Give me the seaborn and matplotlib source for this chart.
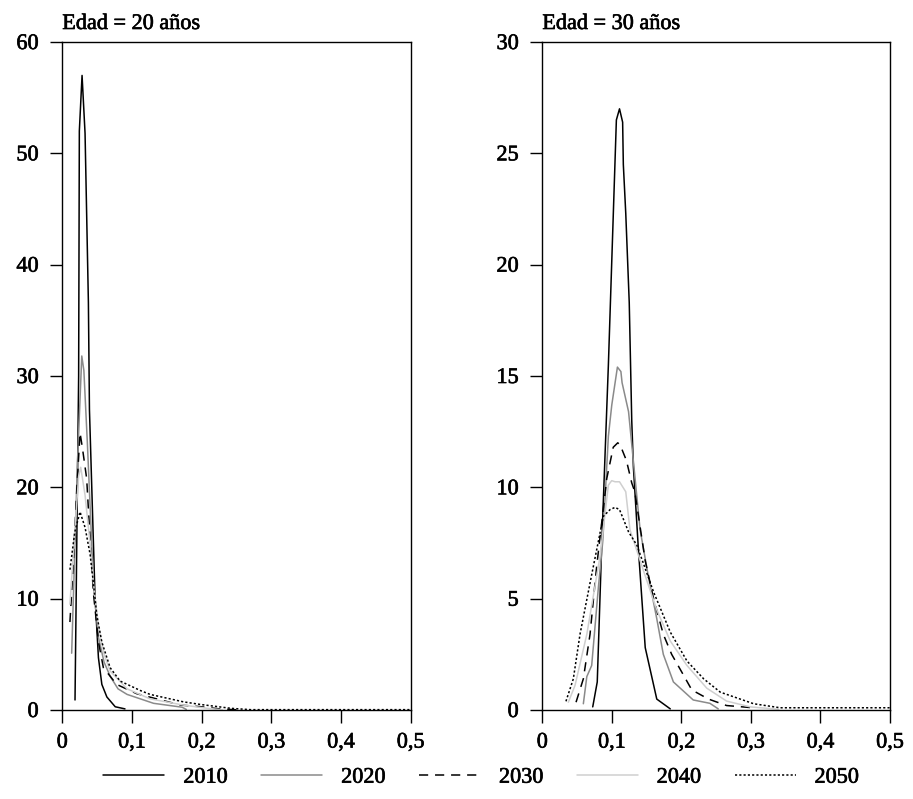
import numpy as np
import pandas as pd
import matplotlib
matplotlib.use("Agg")
import matplotlib.pyplot as plt
import matplotlib.patheffects as pe
import seaborn as sns

years = ["2010", "2020", "2030", "2040", "2050"]
panel_titles = ["Edad = 20 años", "Edad = 30 años"]

# ---- Edad = 20 años ----
x20_2010 = [0.0183, 0.0235, 0.0245, 0.0284, 0.0327, 0.0375, 0.039, 0.047, 0.0519, 0.0568, 0.064, 0.076, 0.090]
y20_2010 = [0.9, 30.0, 52.0, 57.0, 51.8, 36.6, 27.0, 10.2, 4.7, 2.3, 1.17, 0.29, 0.1]
x20_2020 = [0.0135, 0.0216, 0.028, 0.031, 0.036, 0.045, 0.052, 0.060, 0.069, 0.080, 0.093, 0.131, 0.172, 0.178]
y20_2020 = [5.1, 21.9, 31.8, 30.5, 24.0, 11.0, 6.5, 4.3, 3.0, 1.9, 1.4, 0.6, 0.25, 0.05]
x20_2030 = [0.011, 0.016, 0.021, 0.0255, 0.029, 0.035, 0.039, 0.0447, 0.052, 0.059, 0.078, 0.107, 0.170, 0.198, 0.227, 0.25]
y20_2030 = [7.9, 13.4, 20.0, 24.9, 23.5, 20.8, 16.4, 10.5, 6.1, 3.8, 2.3, 1.46, 0.44, 0.3, 0.09, 0.02]
x20_2040 = [0.011, 0.018, 0.0235, 0.0265, 0.0327, 0.040, 0.0447, 0.052, 0.060, 0.0687, 0.093, 0.126, 0.174, 0.208, 0.23]
y20_2040 = [9.5, 16.0, 21.0, 21.8, 19.3, 14.9, 11.4, 7.5, 5.0, 3.5, 1.9, 1.0, 0.44, 0.15, 0.02]
x20_2050 = [0.011, 0.018, 0.0255, 0.0327, 0.0399, 0.0447, 0.0496, 0.0568, 0.0687, 0.083, 0.112, 0.126, 0.174, 0.198, 0.242, 0.27, 0.5]
y20_2050 = [12.6, 16.0, 17.8, 16.4, 14.0, 11.4, 8.5, 6.1, 3.8, 2.6, 1.75, 1.4, 0.73, 0.5, 0.15, 0.03, 0.03]

# ---- Edad = 30 años ----
x30_2010 = [0.0725, 0.079, 0.0855, 0.095, 0.1065, 0.111, 0.1155, 0.1165, 0.120, 0.125, 0.1286, 0.131, 0.138, 0.148, 0.1646, 0.184]
y30_2010 = [0.14, 1.26, 7.5, 15.5, 26.5, 27.0, 26.4, 24.5, 22.3, 18.3, 13.0, 10.9, 7.3, 2.8, 0.49, 0.05]
x30_2020 = [0.059, 0.064, 0.071, 0.0806, 0.087, 0.095, 0.0999, 0.108, 0.113, 0.1147, 0.124, 0.1406, 0.1525, 0.1646, 0.174, 0.1885, 0.217, 0.241, 0.253]
y30_2020 = [0.28, 1.5, 2.0, 5.5, 7.6, 12.3, 13.7, 15.4, 15.2, 14.7, 13.4, 8.1, 6.0, 4.1, 2.5, 1.26, 0.45, 0.3, 0.05]
x30_2030 = [0.0485, 0.059, 0.0686, 0.078, 0.0927, 0.102, 0.1085, 0.112, 0.121, 0.1286, 0.133, 0.148, 0.160, 0.174, 0.186, 0.2006, 0.215, 0.239, 0.265, 0.299, 0.308]
y30_2030 = [0.35, 1.4, 3.4, 6.4, 10.4, 11.8, 12.0, 11.9, 11.2, 10.2, 9.8, 6.7, 5.0, 3.4, 2.5, 1.7, 0.9, 0.49, 0.2, 0.11, 0.02]
x30_2040 = [0.0374, 0.047, 0.064, 0.083, 0.095, 0.0998, 0.1046, 0.111, 0.120, 0.126, 0.145, 0.1646, 0.184, 0.208, 0.2365, 0.265, 0.299, 0.34]
y30_2040 = [0.35, 1.1, 3.4, 6.9, 10.1, 10.3, 10.25, 10.25, 9.8, 8.1, 6.3, 4.5, 3.1, 2.0, 0.98, 0.4, 0.14, 0.03]
x30_2050 = [0.034, 0.0446, 0.0542, 0.0686, 0.0878, 0.0974, 0.1046, 0.111, 0.124, 0.136, 0.160, 0.184, 0.208, 0.232, 0.256, 0.304, 0.342, 0.5]
y30_2050 = [0.39, 1.4, 3.4, 5.7, 8.7, 9.0, 9.1, 9.0, 8.0, 7.4, 5.3, 3.5, 2.2, 1.4, 0.8, 0.28, 0.1, 0.1]

x_ticks = [0, 0.1, 0.2, 0.3, 0.4, 0.5]
x_ticklabels = ["0", "0,1", "0,2", "0,3", "0,4", "0,5"]
y_ticks_20 = [0, 10, 20, 30, 40, 50, 60]
y_ticks_30 = [0, 5, 10, 15, 20, 25, 30]

def build(xs, ys):
    frames = []
    for yr, xv, yv in zip(years, xs, ys):
        frames.append(pd.DataFrame({"x": xv, "y": yv, "year": yr}))
    return pd.concat(frames, ignore_index=True)

df20 = build([x20_2010, x20_2020, x20_2030, x20_2040, x20_2050],
             [y20_2010, y20_2020, y20_2030, y20_2040, y20_2050])
df30 = build([x30_2010, x30_2020, x30_2030, x30_2040, x30_2050],
             [y30_2010, y30_2020, y30_2030, y30_2040, y30_2050])

sns.set_style("ticks")
plt.rcParams["font.family"] = ["Liberation Serif", "DejaVu Serif"]
FS = 16
plt.rcParams["font.size"] = FS
for k in ["text.color", "axes.labelcolor", "xtick.color", "ytick.color", "axes.edgecolor"]:
    plt.rcParams[k] = "black"

heavy = [pe.withStroke(linewidth=0.45, foreground="black")]

palette = {"2010": "#000000", "2020": "#8a8a8a", "2030": "#000000", "2040": "#cfcfcf", "2050": "#000000"}
dashes = {"2010": "", "2020": "", "2030": (6, 4.5), "2040": "", "2050": (1.4, 1.4)}

fig = plt.figure(figsize=(9.13, 7.99), dpi=100)
ax1 = fig.add_axes([0.0682, 0.1114, 0.3816, 0.836])
ax2 = fig.add_axes([0.594, 0.1114, 0.3808, 0.836])

for ax, df, yt, yl, title in [(ax1, df20, y_ticks_20, 60, panel_titles[0]),
                              (ax2, df30, y_ticks_30, 30, panel_titles[1])]:
    sns.lineplot(data=df, x="x", y="y", hue="year", style="year", palette=palette,
                 dashes=dashes, estimator=None, sort=False, linewidth=1.1, ax=ax,
                 legend=(ax is ax1))
    ax.set_xlim(0, 0.5)
    ax.set_ylim(0, yl)
    ax.set_xticks(x_ticks)
    ax.set_xticklabels(x_ticklabels)
    ax.set_yticks(yt)
    ax.set_yticklabels([str(v) for v in yt])
    ax.set_xlabel("")
    ax.set_ylabel("")
    ax.tick_params(axis="both", direction="out", length=9, width=1.0, pad=8,
                   labelsize=FS, colors="black")
    for lab in ax.get_xticklabels() + ax.get_yticklabels():
        lab.set_path_effects(heavy)
    for s in ax.spines.values():
        s.set_visible(True)
        s.set_color("black")
        s.set_linewidth(1.0)
    ax.text(0.0, 1.012, title, transform=ax.transAxes, ha="left", va="bottom",
            fontsize=FS, path_effects=heavy)

handles, labels = ax1.get_legend_handles_labels()
ax1.get_legend().remove()
leg = fig.legend(handles, labels, loc="center", bbox_to_anchor=(0.527, 0.027), ncol=5,
                 frameon=False, handlelength=2.75, handletextpad=0.85, columnspacing=1.5,
                 fontsize=FS)
for t in leg.get_texts():
    t.set_path_effects(heavy)

fig.savefig("out.png", dpi=100)
